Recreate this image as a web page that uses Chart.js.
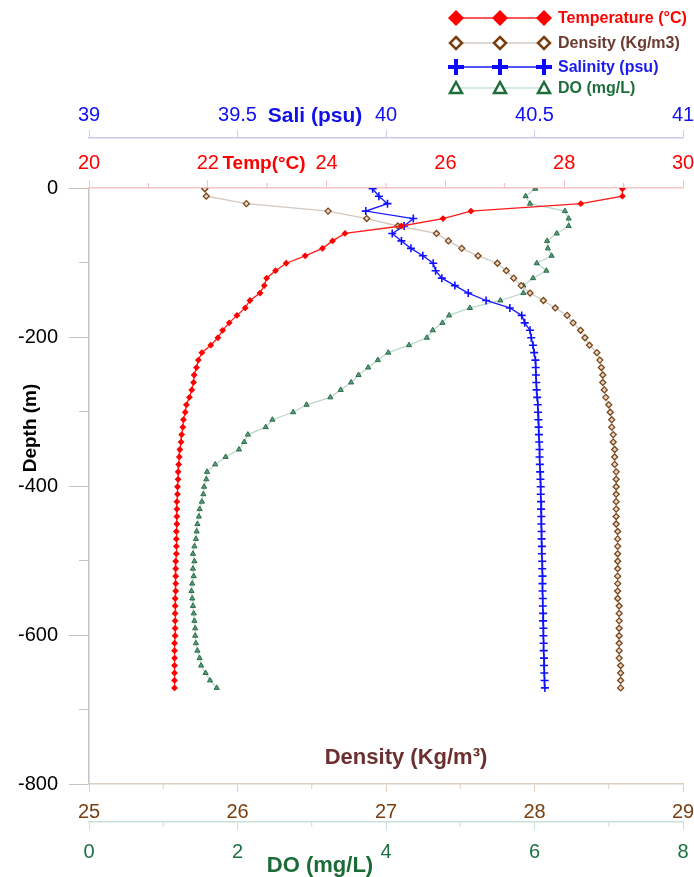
<!DOCTYPE html>
<html>
<head>
<meta charset="utf-8">
<script src="https://cdn.jsdelivr.net/npm/chart.js@4.4.1/dist/chart.umd.min.js"></script>
<style>
  html, body { margin: 0; padding: 0; background: #fff; }
</style>
</head>
<body>
<canvas id="profileChart" width="694" height="877"></canvas>
<script>
// depth of each sample (m)
const depths = [
  -1, -11, -21, -31, -41, -51, -61, -71, -81, -91,
  -101, -111, -121, -131, -141, -151, -161, -171, -181, -191,
  -201, -211, -221, -231, -241, -251, -261, -271, -281, -291,
  -301, -311, -321, -331, -341, -351, -361, -371, -381, -391,
  -401, -411, -421, -431, -441, -451, -461, -471, -481, -491,
  -501, -511, -521, -531, -541, -551, -561, -571, -581, -591,
  -601, -611, -621, -631, -641, -651, -661, -671
]

const temperature = [
  28.98, 28.98, 28.28, 26.43, 25.96, 25.26, 24.31, 24.10, 23.93, 23.64,
  23.32, 23.14, 22.99, 22.95, 22.88, 22.71, 22.63, 22.49, 22.36, 22.25,
  22.17, 22.05, 21.90, 21.84, 21.81, 21.77, 21.76, 21.73, 21.69, 21.64,
  21.62, 21.59, 21.58, 21.56, 21.55, 21.53, 21.52, 21.51, 21.50, 21.50,
  21.49, 21.49, 21.48, 21.48, 21.48, 21.48, 21.47, 21.47, 21.47, 21.47,
  21.46, 21.46, 21.46, 21.46, 21.46, 21.45, 21.45, 21.45, 21.45, 21.45,
  21.45, 21.44, 21.44, 21.44, 21.44, 21.44, 21.44, 21.44
]

const density = [
  25.78, 25.79, 26.06, 26.61, 26.87, 27.08, 27.34, 27.42, 27.51, 27.62,
  27.75, 27.81, 27.86, 27.91, 27.97, 28.06, 28.14, 28.22, 28.26, 28.31,
  28.34, 28.37, 28.42, 28.44, 28.45, 28.46, 28.46, 28.47, 28.48, 28.50,
  28.51, 28.52, 28.52, 28.53, 28.53, 28.54, 28.54, 28.54, 28.55, 28.55,
  28.55, 28.55, 28.55, 28.55, 28.55, 28.55, 28.56, 28.56, 28.56, 28.56,
  28.56, 28.56, 28.56, 28.56, 28.56, 28.56, 28.57, 28.57, 28.57, 28.57,
  28.57, 28.57, 28.57, 28.57, 28.58, 28.58, 28.58, 28.58
]

const salinity = [
  39.955, 39.976, 40.005, 39.932, 40.092, 40.061, 40.021, 40.052, 40.084, 40.124,
  40.159, 40.167, 40.188, 40.232, 40.277, 40.337, 40.417, 40.457, 40.467, 40.485,
  40.489, 40.495, 40.499, 40.503, 40.504, 40.505, 40.506, 40.507, 40.509, 40.511,
  40.512, 40.513, 40.514, 40.515, 40.516, 40.517, 40.517, 40.518, 40.519, 40.520,
  40.521, 40.521, 40.522, 40.522, 40.523, 40.523, 40.524, 40.524, 40.525, 40.525,
  40.526, 40.526, 40.527, 40.527, 40.527, 40.528, 40.528, 40.529, 40.529, 40.530,
  40.530, 40.531, 40.531, 40.532, 40.532, 40.533, 40.534, 40.535
]

const dissolvedOxygen = [
  6.01, 5.88, 5.94, 6.41, 6.46, 6.46, 6.30, 6.17, 6.18, 6.23,
  6.03, 6.16, 5.98, 5.85, 5.85, 5.54, 5.13, 4.85, 4.76, 4.63,
  4.55, 4.31, 4.03, 3.89, 3.76, 3.63, 3.53, 3.39, 3.25, 2.93,
  2.75, 2.47, 2.38, 2.14, 2.09, 2.02, 1.84, 1.70, 1.59, 1.58,
  1.55, 1.54, 1.52, 1.49, 1.48, 1.46, 1.45, 1.44, 1.42, 1.40,
  1.42, 1.40, 1.41, 1.39, 1.38, 1.39, 1.40, 1.41, 1.42, 1.43,
  1.43, 1.44, 1.46, 1.49, 1.51, 1.57, 1.63, 1.72
]

// axis ticks (labelled) and minor ticks
const depthTicks = [0, -200, -400, -600, -800]
const depthMinor = [-100, -300, -500, -700]
const tempTicks = [20, 22, 24, 26, 28, 30]
const tempMinor = [21, 23, 25, 27, 29]
const salTicks = [39, 39.5, 40, 40.5, 41]
const densityTicks = [25, 26, 27, 28, 29]
const densityMinor = [25.5, 26.5, 27.5, 28.5]
const doTicks = [0, 2, 4, 6, 8]
const doMinor = [1, 3, 5, 7]

const FONT = "'Liberation Sans', Arial, sans-serif"

function toPoints(values) {
  return values.map((v, i) => ({ x: v, y: depths[i] }))
}

function setTicks(list) {
  return (scale) => { scale.ticks = list.map((v) => ({ value: v })) }
}

function fixHeight(h) {
  return (scale) => {
    scale.height = h
    scale.paddingLeft = 0
    scale.paddingRight = 0
  }
}

function xAxis(opts) {
  return {
    type: "linear",
    position: opts.position,
    weight: opts.weight,
    min: opts.min,
    max: opts.max,
    afterBuildTicks: setTicks(opts.ticks),
    afterFit: fixHeight(opts.height),
    grid: { drawOnChartArea: false, drawTicks: true, tickLength: 8, color: opts.line },
    border: { color: opts.line, width: 1.5 },
    ticks: {
      color: opts.color,
      font: { size: 20, family: FONT },
      padding: opts.padding,
      autoSkip: false,
      maxRotation: 0,
      callback: (v) => String(v),
    },
  }
}

function drawMinor(ctx, scale, values, len, color) {
  ctx.save()
  ctx.strokeStyle = color
  ctx.lineWidth = 1
  ctx.beginPath()
  values.forEach((v) => {
    const p = scale.getPixelForValue(v)
    if (scale.position === "left") {
      ctx.moveTo(scale.right - len, p)
      ctx.lineTo(scale.right, p)
    } else if (scale.position === "top") {
      ctx.moveTo(p, scale.bottom - len)
      ctx.lineTo(p, scale.bottom)
    } else {
      ctx.moveTo(p, scale.top)
      ctx.lineTo(p, scale.top + len)
    }
  })
  ctx.stroke()
  ctx.restore()
}

function drawMarker(ctx, kind, x, y, color) {
  ctx.save()
  ctx.strokeStyle = color
  ctx.fillStyle = color
  ctx.beginPath()
  if (kind === "diamondFilled") {
    ctx.moveTo(x, y - 8); ctx.lineTo(x + 8, y); ctx.lineTo(x, y + 8); ctx.lineTo(x - 8, y); ctx.closePath()
    ctx.fill()
  } else if (kind === "diamond") {
    ctx.lineWidth = 2.5
    ctx.fillStyle = "#fff"
    ctx.moveTo(x, y - 6); ctx.lineTo(x + 6, y); ctx.lineTo(x, y + 6); ctx.lineTo(x - 6, y); ctx.closePath()
    ctx.fill(); ctx.stroke()
  } else if (kind === "plus") {
    ctx.lineWidth = 4
    ctx.moveTo(x - 8, y); ctx.lineTo(x + 8, y); ctx.moveTo(x, y - 8); ctx.lineTo(x, y + 8)
    ctx.stroke()
  } else if (kind === "triangle") {
    ctx.lineWidth = 2.5
    ctx.fillStyle = "#fff"
    ctx.moveTo(x, y - 6); ctx.lineTo(x + 6, y + 5); ctx.lineTo(x - 6, y + 5); ctx.closePath()
    ctx.fill(); ctx.stroke()
  }
  ctx.restore()
}

const legendItems = [
  { label: "Temperature (°C)", line: "#ff2020", marker: "diamondFilled", mColor: "#ff0000", text: "#ff0000" },
  { label: "Density (Kg/m3)", line: "#d6ccc4", marker: "diamond", mColor: "#7a3f10", text: "#6b3a30" },
  { label: "Salinity (psu)", line: "#1a1aff", marker: "plus", mColor: "#0a0aff", text: "#1a1aee" },
  { label: "DO (mg/L)", line: "#c8e0d8", marker: "triangle", mColor: "#1e6e3c", text: "#1e6e3c" },
]
const legendRows = [18, 43, 67, 88]

const decorPlugin = {
  id: "decor",
  afterDraw(chart) {
    const ctx = chart.ctx
    const s = chart.scales

    // minor tick marks
    drawMinor(ctx, s.y, depthMinor, 10, "#c4c4c4")
    drawMinor(ctx, s.x, tempMinor, 5, "#f5b5b5")
    drawMinor(ctx, s.dens, densityMinor, 5, "#dccfc0")
    drawMinor(ctx, s.do2, doMinor, 5, "#c8e2d8")

    // axis titles
    ctx.save()
    ctx.textAlign = "center"
    ctx.textBaseline = "middle"
    ctx.font = "bold 21px " + FONT
    ctx.fillStyle = "#1010e8"
    ctx.fillText("Sali (psu)", 315, 116)
    ctx.font = "bold 19px " + FONT
    ctx.fillStyle = "#ff0000"
    ctx.fillText("Temp(°C)", 264, 164)
    ctx.font = "bold 22px " + FONT
    ctx.fillStyle = "#6b2f2f"
    ctx.fillText("Density (Kg/m³)", 406, 758)
    ctx.fillStyle = "#1a6b36"
    ctx.fillText("DO (mg/L)", 320, 866)
    ctx.translate(31, 428)
    ctx.rotate(-Math.PI / 2)
    ctx.font = "bold 19px " + FONT
    ctx.fillStyle = "#000"
    ctx.fillText("Depth (m)", 0, 0)
    ctx.restore()

    // legend
    legendItems.forEach((item, i) => {
      const y = legendRows[i]
      ctx.save()
      ctx.strokeStyle = item.line
      ctx.lineWidth = 1.5
      ctx.beginPath()
      ctx.moveTo(456, y)
      ctx.lineTo(544, y)
      ctx.stroke()
      ctx.restore()
      ;[456, 500, 544].forEach((x) => drawMarker(ctx, item.marker, x, y, item.mColor))
      ctx.save()
      ctx.font = "bold 16px " + FONT
      ctx.fillStyle = item.text
      ctx.textAlign = "left"
      ctx.textBaseline = "middle"
      ctx.fillText(item.label, 558, y + 1)
      ctx.restore()
    })
  },
}

const ctx = document.getElementById("profileChart")
new Chart(ctx, {
  type: "scatter",
  data: {
    datasets: [
      {
        label: "Temperature (°C)",
        data: toPoints(temperature),
        xAxisID: "x",
        showLine: true,
        borderColor: "#ff1a1a",
        borderWidth: 1.3,
        pointStyle: "rectRot",
        pointRadius: 2.5,
        backgroundColor: "#ff0000",
        pointBorderColor: "#ff0000",
      },
      {
        label: "Salinity (psu)",
        data: toPoints(salinity),
        xAxisID: "sal",
        showLine: true,
        borderColor: "#1a1aff",
        borderWidth: 1.3,
        pointStyle: "cross",
        pointRadius: 4,
        pointBorderWidth: 1.6,
        pointBorderColor: "#1010ff",
        backgroundColor: "#1010ff",
      },
      {
        label: "Density (Kg/m3)",
        data: toPoints(density),
        xAxisID: "dens",
        showLine: true,
        borderColor: "#d2c8c0",
        borderWidth: 1.3,
        pointStyle: "rectRot",
        pointRadius: 3,
        pointBorderWidth: 1.3,
        pointBorderColor: "#7a4518",
        backgroundColor: "#e6d8c8",
      },
      {
        label: "DO (mg/L)",
        data: toPoints(dissolvedOxygen),
        xAxisID: "do2",
        showLine: true,
        borderColor: "#bcd8cc",
        borderWidth: 1.3,
        pointStyle: "triangle",
        pointRadius: 3,
        pointBorderWidth: 1,
        pointBorderColor: "#2a6e48",
        backgroundColor: "#5a9a78",
      },
    ],
  },
  options: {
    responsive: false,
    animation: false,
    devicePixelRatio: 1,
    layout: { padding: { top: 100, right: 11, bottom: 0, left: 0 } },
    plugins: { legend: { display: false }, tooltip: { enabled: false } },
    scales: {
      y: {
        type: "linear",
        position: "left",
        min: -800,
        max: 0,
        afterBuildTicks: setTicks(depthTicks),
        afterFit: (scale) => { scale.width = 89 },
        grid: { drawOnChartArea: false, drawTicks: true, tickLength: 20, color: "#c4c4c4" },
        border: { color: "#c4c4c4", width: 1.5 },
        ticks: {
          color: "#000",
          font: { size: 20, family: FONT },
          padding: 11,
          autoSkip: false,
          callback: (v) => String(v),
        },
      },
      x: xAxis({ position: "top", weight: 0, min: 20, max: 30, ticks: tempTicks, height: 50, line: "#f8c4c4", color: "#ff0000", padding: 5 }),
      sal: xAxis({ position: "top", weight: 1, min: 39, max: 41, ticks: salTicks, height: 38, line: "#cacaf0", color: "#1010f0", padding: 3 }),
      dens: xAxis({ position: "bottom", weight: 0, min: 25, max: 29, ticks: densityTicks, height: 38, line: "#dccfc0", color: "#7a4010", padding: 8 }),
      do2: xAxis({ position: "bottom", weight: 1, min: 0, max: 8, ticks: doTicks, height: 55, line: "#c8e2d8", color: "#1a7040", padding: 10 }),
    },
  },
  plugins: [decorPlugin],
})
</script>
</body>
</html>
